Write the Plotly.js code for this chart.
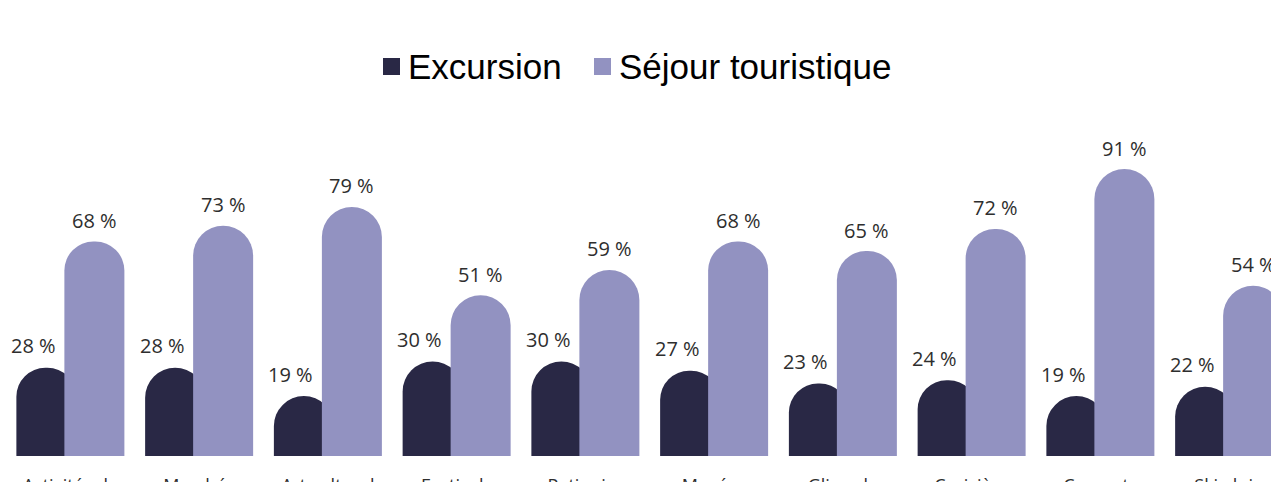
<!DOCTYPE html>
<html>
<head>
<meta charset="utf-8">
<script src="https://cdn.plot.ly/plotly-3.0.1.min.js"></script>
<style>html,body{margin:0;padding:0;background:#fff;}#chart{width:1271px;height:482px;}</style>
</head>
<body>
<div id="chart"></div>
<script>
const categories = ["Activités de plein air", "Marchés de Noël", "Art culturel", "Festivals", "Patinoire", "Musées", "Glissade", "Croisière", "Concerts", "Ski alpin"];
const tickLabels = ["Activités de", "Marchés", "Art culturel", "Festivals", "Patinoire", "Musées", "Glissade", "Croisière", "Concerts", "Ski alpin"];
const excursion = [28, 28, 19, 30, 30, 27, 23, 24, 19, 22];
const sejour = [68, 73, 79, 51, 59, 68, 65, 72, 91, 54];
const seriesNames = ["Excursion", "Séjour touristique"];
const colors = ["#292845", "#9292c1"];

const W = 1271, H = 482;
const L = 6, R = 0, T = 100, B = 26;
const plotW = W - L - R, plotH = H - T - B;
const catPx = 128.75;
const pxPerUnit = 3.153;
const xMax = -0.5 + plotW / catPx;
const yMax = plotH / pxPerUnit;
const barW = 60 / catPx;
const darkOff = -54 / catPx;
const lightOff = -6 / catPx;

const traces = [
  {type: "bar", name: seriesNames[0], x: categories, y: excursion, width: barW, offset: darkOff,
   marker: {color: colors[0], cornerradius: "50%", line: {width: 0}}, showlegend: false, hoverinfo: "skip"},
  {type: "bar", name: seriesNames[1], x: categories, y: sejour, width: barW, offset: lightOff,
   marker: {color: colors[1], cornerradius: "50%", line: {width: 0}}, showlegend: false, hoverinfo: "skip"}
];

const labelFont = {family: "Open Sans", size: 20, color: "#2e2e2e"};
const annotations = [];
excursion.forEach((v, i) => {
  annotations.push({x: i + darkOff + barW / 2, y: v, xref: "x", yref: "y", text: v + " %",
    showarrow: false, xanchor: "center", yanchor: "middle", xshift: -13, yshift: 22, font: labelFont});
});
sejour.forEach((v, i) => {
  annotations.push({x: i + lightOff + barW / 2, y: v, xref: "x", yref: "y", text: v + " %",
    showarrow: false, xanchor: "center", yanchor: "middle", xshift: 0, yshift: 21, font: labelFont});
});

// custom legend
const px2x = p => (p - L) / plotW;
const py2y = p => (H - B - p) / plotH;
const legFont = {family: "Liberation Sans, Arial", size: 35, color: "#000"};
const shapes = [
  {type: "rect", xref: "paper", yref: "paper", x0: px2x(383), x1: px2x(400), y0: py2y(75), y1: py2y(58), fillcolor: colors[0], line: {width: 0}},
  {type: "rect", xref: "paper", yref: "paper", x0: px2x(594), x1: px2x(611), y0: py2y(75), y1: py2y(58), fillcolor: colors[1], line: {width: 0}}
];
annotations.push({xref: "paper", yref: "paper", x: px2x(406), y: py2y(66), text: seriesNames[0], showarrow: false, xanchor: "left", yanchor: "middle", font: legFont});
annotations.push({xref: "paper", yref: "paper", x: px2x(617), y: py2y(66), text: seriesNames[1], showarrow: false, xanchor: "left", yanchor: "middle", font: legFont});

const layout = {
  width: W, height: H,
  margin: {l: L, r: R, t: T, b: B, pad: 0},
  paper_bgcolor: "#fff", plot_bgcolor: "#fff",
  barmode: "overlay",
  showlegend: false,
  xaxis: {type: "category", range: [-0.5, xMax], showgrid: false, zeroline: false, showline: false,
    ticks: "", tickangle: 0, ticklabelstandoff: 17, tickmode: "array", tickvals: categories, ticktext: tickLabels,
    tickfont: {family: "Open Sans", size: 18, color: "#2e2e2e"}, fixedrange: true, automargin: false},
  yaxis: {range: [0, yMax], visible: false, showgrid: false, zeroline: false, fixedrange: true},
  annotations: annotations,
  shapes: shapes
};

Plotly.newPlot("chart", traces, layout, {displayModeBar: false, staticPlot: true});
</script>
</body>
</html>
